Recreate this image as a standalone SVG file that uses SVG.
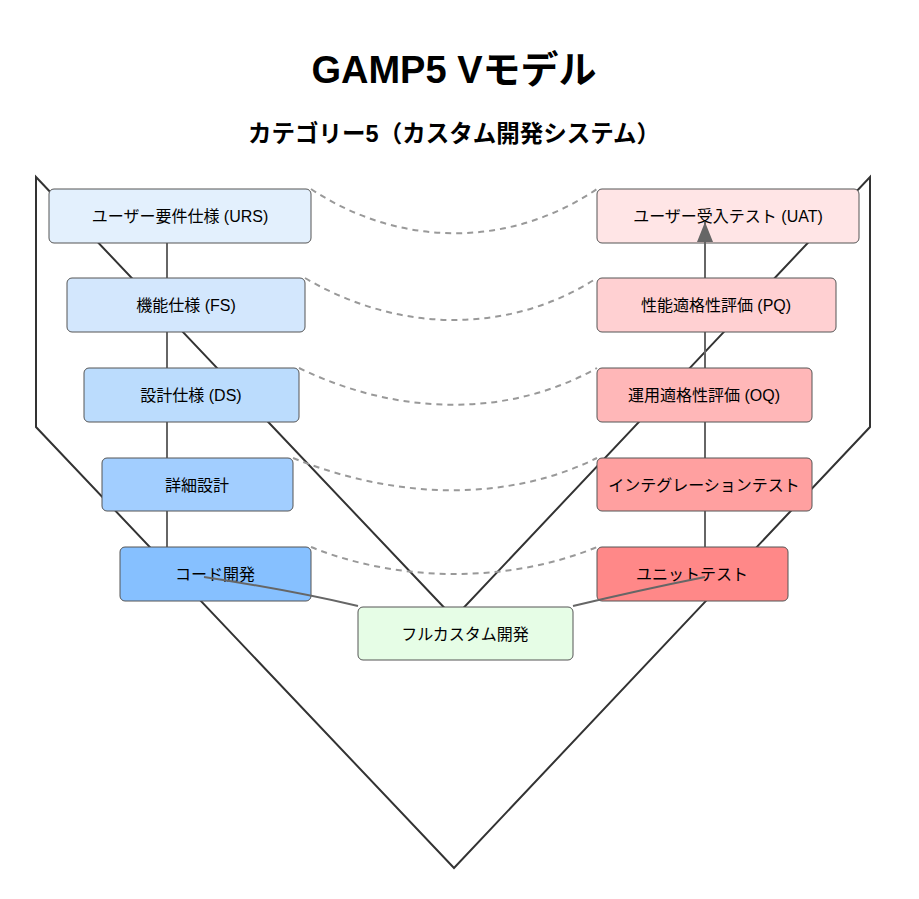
<svg xmlns="http://www.w3.org/2000/svg" width="919" height="899" viewBox="0 0 919 899">
<style>
text{font-family:"Liberation Sans","Noto Sans CJK JP",sans-serif;fill:#000}
.t{font-size:16px;text-anchor:middle;dominant-baseline:central}
.box{stroke:#555;stroke-width:1}
.dash{fill:none;stroke:#999;stroke-width:2;stroke-dasharray:6 5}
.con{fill:none;stroke:#666;stroke-width:2}
</style>
<defs>
<marker id="ah" markerWidth="20" markerHeight="16" refX="20" refY="8" orient="auto" markerUnits="userSpaceOnUse" viewBox="0 0 20 16">
<path d="M0,0 L20,8 L0,16 Z" fill="#666"/>
</marker>
</defs>
<rect width="919" height="899" fill="#fff"/>
<text x="454" y="83" font-size="38" font-weight="bold" text-anchor="middle">GAMP5 Vモデル</text>
<text x="454" y="142" font-size="23.5" font-weight="bold" text-anchor="middle">カテゴリー5（カスタム開発システム）</text>
<g id="vshape">
<polygon points="36,177 454,618 870,177 870,427 454,868 36,427" fill="none" stroke="#333" stroke-width="2"/>
</g>
<g id="dashes">
<path class="dash" d="M311,189 C400,248 510,248 597,189"/>
<path class="dash" d="M305,278 C400,334 510,334 597,278"/>
<path class="dash" d="M299,368 C400,417 510,417 597,368"/>
<path class="dash" d="M293,458 C400,501 510,501 597,458"/>
<path class="dash" d="M311,547 C400,583 510,583 597,547"/>
</g>
<g id="vlines">
<line class="con" x1="167" y1="243" x2="167" y2="547"/>
<line class="con" x1="705" y1="547" x2="705" y2="243"/>
</g>
<g id="urs"><rect class="box" x="49" y="189" width="262" height="54" rx="5" fill="#e3f0fd"/><text class="t" x="180" y="216">ユーザー要件仕様 (URS)</text></g>
<g id="fs"><rect class="box" x="67" y="278" width="238" height="54" rx="5" fill="#d3e7fd"/><text class="t" x="186" y="305">機能仕様 (FS)</text></g>
<g id="ds"><rect class="box" x="84" y="368" width="215" height="54" rx="5" fill="#bbdcfd"/><text class="t" x="191" y="395">設計仕様 (DS)</text></g>
<g id="detail"><rect class="box" x="102" y="458" width="191" height="53" rx="5" fill="#a2ceff"/><text class="t" x="197" y="485">詳細設計</text></g>
<g id="code"><rect class="box" x="120" y="547" width="191" height="54" rx="5" fill="#86c0ff"/><text class="t" x="215" y="574">コード開発</text></g>
<g id="uat"><rect class="box" x="597" y="189" width="262" height="54" rx="5" fill="#ffe5e6"/><text class="t" x="728" y="216">ユーザー受入テスト (UAT)</text></g>
<g id="pq"><rect class="box" x="597" y="278" width="239" height="54" rx="5" fill="#ffd0d2"/><text class="t" x="716" y="305">性能適格性評価 (PQ)</text></g>
<g id="oq"><rect class="box" x="597" y="368" width="215" height="54" rx="5" fill="#ffb7b8"/><text class="t" x="704" y="395">運用適格性評価 (OQ)</text></g>
<g id="it"><rect class="box" x="597" y="458" width="215" height="53" rx="5" fill="#ffa0a0"/><text class="t" x="704" y="485">インテグレーションテスト</text></g>
<g id="ut"><rect class="box" x="597" y="547" width="191" height="54" rx="5" fill="#ff8888"/><text class="t" x="692" y="574">ユニットテスト</text></g>
<g id="full"><rect class="box" x="358" y="607" width="215" height="53" rx="5" fill="#e6fde6"/><text class="t" x="465" y="634">フルカスタム開発</text></g>
<g id="connectors">
<path class="con" d="M204,577 Q290,590 358,606"/>
<path class="con" d="M573,606 Q640,590 705,577"/>
<line class="con" x1="705" y1="250" x2="705" y2="222" marker-end="url(#ah)"/>
</g>
</svg>
